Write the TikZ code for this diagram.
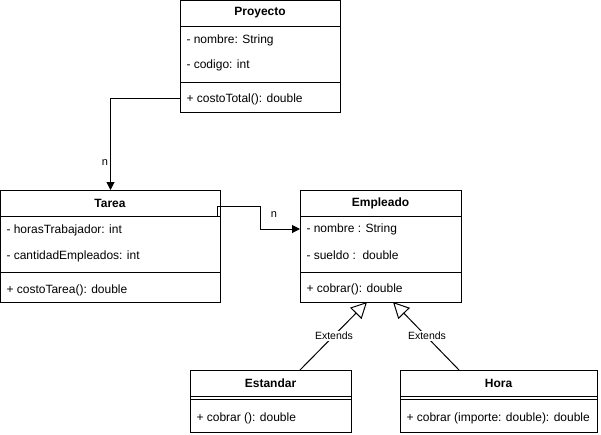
\documentclass[tikz,border=0pt]{standalone}
\usepackage{fontspec}
\setmainfont{Liberation Sans}
\usetikzlibrary{arrows.meta}
\begin{document}
\begin{tikzpicture}[x=1pt,y=-1pt, line width=1pt,
  box/.style={draw, rectangle, anchor=north west, inner sep=0pt, outer sep=0pt},
  attr/.style={anchor=west, font=\fontsize{12}{14}\selectfont, inner sep=0pt},
  ttl/.style={font=\bfseries\fontsize{12}{14}\selectfont, inner sep=0pt},
  lbl/.style={font=\fontsize{11}{13}\selectfont, inner sep=1pt},
  elbl/.style={font=\fontsize{10.5}{12}\selectfont, fill=white, inner sep=1pt},
  assoc/.style={-{Triangle[length=8pt,width=8pt]}},
  inh/.style={-{Triangle[open,length=16pt,width=16pt,fill=white]}}]
\useasboundingbox (0,0) rectangle (601,434);

% Proyecto
\node[box, minimum width=160pt, minimum height=112pt] (proy) at (180,0.5) {};
\draw (180,26) -- (340,26);
\draw (180,82) -- (340,82);
\node[ttl] (proyt) at (260,13) {Proyecto};
\node[attr] (proya1) at (186,40) {- nombre: String};
\node[attr] (proya2) at (186,65) {- codigo: int};
\node[attr] (proym1) at (186,99) {+ costoTotal(): double};

% Tarea
\node[box, minimum width=220pt, minimum height=112pt] (tarea) at (0.5,190) {};
\draw (0.5,216) -- (220.5,216);
\draw (0.5,272) -- (220.5,272);
\node[ttl] (tareat) at (110,203) {Tarea};
\node[attr] (tareaa1) at (6,230) {- horasTrabajador: int};
\node[attr] (tareaa2) at (6,256) {- cantidadEmpleados: int};
\node[attr] (taream1) at (6,290) {+ costoTarea(): double};

% Empleado
\node[box, minimum width=161pt, minimum height=112pt] (emp) at (300,190) {};
\draw (300,216) -- (461,216);
\draw (300,272) -- (461,272);
\node[ttl] (empt) at (380.5,203) {Empleado};
\node[attr] (empa1) at (306,229) {- nombre : String};
\node[attr] (empa2) at (306,255) {- sueldo :\ \ double};
\node[attr] (empm1) at (306,289) {+ cobrar(): double};

% Estandar
\node[box, minimum width=161pt, minimum height=62pt] (est) at (190,370) {};
\draw (190,396) -- (351,396);
\draw (190,399) -- (351,399);
\node[ttl] (estt) at (270.5,383) {Estandar};
\node[attr] (estm1) at (196,418) {+ cobrar (): double};

% Hora
\node[box, minimum width=197pt, minimum height=62pt] (hora) at (400,370) {};
\draw (400,396) -- (597,396);
\draw (400,399) -- (597,399);
\node[ttl] (horat) at (498.5,383) {Hora};
\node[attr] (horam1) at (406,418) {+ cobrar (importe: double): double};

% associations
\draw[assoc] ([yshift=14pt]proy.south west) -| (tarea.north);
\node[lbl] (n1) at (105,163) {n};
\draw[assoc] ([shift={(-3pt,-26pt)}]tarea.north east) -- ++(0,-10) -- ++(43,0) |- ([yshift=17pt]emp.west);
\node[lbl] (n2) at (274,215) {n};

% inheritance
\draw[inh] ([xshift=29.5pt]est.north) -- ([xshift=-13.5pt]emp.south);
\draw[inh] ([xshift=-39.5pt]hora.north) -- ([xshift=12.5pt]emp.south);
\node[elbl] (e1) at (334,336) {Extends};
\node[elbl] (e2) at (427,336) {Extends};
\end{tikzpicture}
\end{document}
